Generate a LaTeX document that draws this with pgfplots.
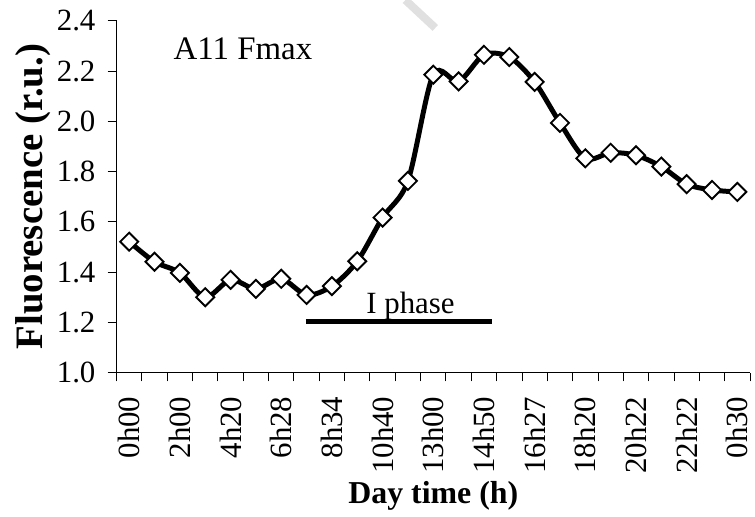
\documentclass[border=0pt]{standalone}
\usepackage{pgfplots}
\pgfplotsset{compat=1.18}
\usepackage{fontspec}
\setmainfont{Liberation Serif}
\begin{document}
\begin{tikzpicture}
\path[use as bounding box] (-117pt,-145pt) rectangle (641pt,374pt);
\begin{axis}[
  at={(0,0)}, anchor=south west,
  scale only axis, width=636pt, height=353pt,
  xmin=-0.5, xmax=24.5, ymin=1.0, ymax=2.4,
  axis lines*=left,
  axis line style={-, black, line width=0.9pt},
  clip=false,
  tick align=outside,
  xtick={0,2,...,24},
  xticklabels={0h00,2h00,4h20,6h28,8h34,10h40,13h00,14h50,16h27,18h20,20h22,22h22,0h30},
  major x tick style={draw=none},
  minor xtick={-0.5,0.5,...,24.5},
  minor tick length=9pt,
  minor x tick style={black, line width=0.9pt},
  ytick={1.0,1.2,...,2.41},
  major tick length=9pt,
  major y tick style={black, line width=0.9pt},
  /pgf/number format/assume math mode=true,
  yticklabel style={/pgf/number format/fixed, /pgf/number format/fixed zerofill, /pgf/number format/precision=1, font=\fontsize{31}{36}\selectfont, inner sep=0pt, xshift=-12pt},
  xticklabel style={rotate=90, anchor=east, font=\fontsize{31}{36}\selectfont, inner sep=0pt, xshift=-15pt, yshift=0pt},
  xlabel={\textbf{Day time (h)}},
  ylabel={\textbf{Fluorescence (r.u.)}},
  xlabel style={font=\fontsize{32}{38}\selectfont, inner sep=0pt, at={(axis description cs:0.5,0)}, anchor=base, yshift=-131pt},
  ylabel style={font=\fontsize{39}{44}\selectfont, inner sep=0pt, yshift=6pt},
]
\draw[black!12, line width=8pt] (axis cs:10.9,2.483) -- (axis cs:12.08,2.372);
\addplot[black, line width=5pt, smooth, tension=0.5, mark=square*, mark size=6.4pt,
  mark options={rotate=45, fill=white, draw=black, line width=1.9pt}]
  table {
x y
0 1.521
1 1.441
2 1.397
3 1.300
4 1.369
5 1.333
6 1.373
7 1.309
8 1.344
9 1.443
10 1.617
11 1.763
12 2.186
13 2.159
14 2.265
15 2.256
16 2.157
17 1.994
18 1.853
19 1.875
20 1.865
21 1.820
22 1.750
23 1.727
24 1.719
};
\draw[black, line width=5pt] (axis cs:6.97,1.202) -- (axis cs:14.32,1.202);
\node[anchor=base, font=\fontsize{31}{36}\selectfont, inner sep=0pt] at (axis cs:11.1,1.234) {I phase};
\node[anchor=base, font=\fontsize{33}{38}\selectfont, inner sep=0pt] at (axis cs:4.49,2.245) {A11 Fmax};
\end{axis}
\end{tikzpicture}
\end{document}
